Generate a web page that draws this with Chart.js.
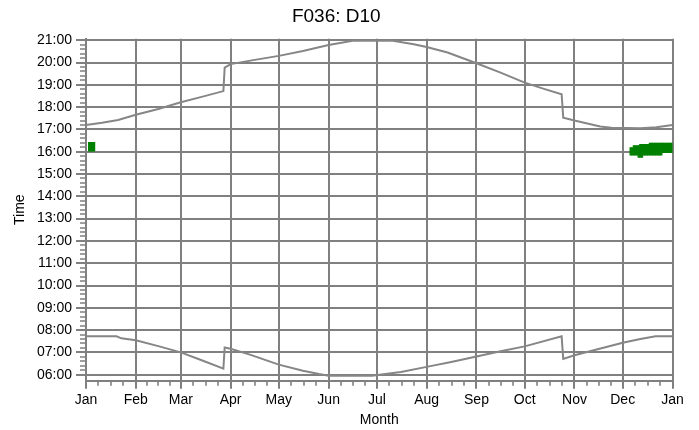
<!DOCTYPE html>
<html><head><meta charset="utf-8">
<script src="https://cdn.jsdelivr.net/npm/chart.js@4/dist/chart.umd.min.js"></script>
<style>html,body{margin:0;padding:0;background:#fff}#wrap{width:699px;height:430px;position:relative}canvas{display:block}</style>
</head><body><div id="wrap"><canvas id="c" width="699" height="430"></canvas></div>
<script>
const chartTitle = 'F036: D10';
const xTitle = 'Month';
const yTitle = 'Time';
const monthLabels = ['Jan','Feb','Mar','Apr','May','Jun','Jul','Aug','Sep','Oct','Nov','Dec','Jan'];
const monthStartDays = [0,31,59,90,120,151,181,212,243,273,304,334,365];
const hourTicks = [6,7,8,9,10,11,12,13,14,15,16,17,18,19,20,21];
const hourLabels = ['06:00','07:00','08:00','09:00','10:00','11:00','12:00','13:00','14:00','15:00','16:00','17:00','18:00','19:00','20:00','21:00'];

// upper grey line (day of year, hours)
const upperDays  = [0,10,20,31,45,59,72,85.5,86.3,90,105,120,135,151,166,191,204,212,225,243,258,273,285,296,297,304,320,327,345,355,365];
const upperTimes = [17.20,17.30,17.42,17.66,17.92,18.22,18.46,18.72,19.77,19.93,20.12,20.30,20.52,20.79,20.98,20.98,20.82,20.70,20.45,19.97,19.55,19.10,18.82,18.58,17.53,17.40,17.13,17.08,17.05,17.10,17.20];
// lower grey line
const lowerDays  = [0,19,22,31,45,59,72,85.5,86.3,90,102,120,135,145,151,178,185,196,212,228,243,258,273,296,297,304,319,334,345,354.5,365];
const lowerTimes = [7.72,7.72,7.63,7.54,7.28,7.00,6.65,6.27,7.22,7.16,6.90,6.45,6.18,6.03,5.95,5.95,6.02,6.12,6.35,6.58,6.82,7.05,7.27,7.72,6.71,6.87,7.15,7.43,7.60,7.72,7.72];
// green blocks (day of year, start hour, end hour)
const greenDays  = [2,3,4,5,
  339,340,341,342,343,344,345,346,347,348,349,350,351,352,353,354,355,356,357,358,359,360,361,362,363,364,365];
const greenStart = [16.03,16.03,16.03,16.03,
  15.85,15.85,15.85,15.85,15.85,15.75,15.75,15.75,15.85,15.85,15.85,15.85,15.85,15.85,15.85,15.85,15.85,15.85,15.85,15.85,15.96,15.96,15.96,15.96,15.96,15.96,15.96];
const greenEnd   = [16.42,16.42,16.42,16.42,
  16.18,16.18,16.27,16.27,16.27,16.27,16.33,16.33,16.33,16.33,16.33,16.33,16.38,16.38,16.38,16.38,16.38,16.38,16.38,16.38,16.38,16.38,16.38,16.38,16.38,16.38,16.38];

const FONT = "'Liberation Sans', Arial, sans-serif";
const GRID = '#808080';

const minorTicks = {
  id: 'minorTicks',
  afterDraw(chart) {
    const {ctx, scales: {x, y}, chartArea: a} = chart;
    ctx.save();
    ctx.strokeStyle = GRID;
    ctx.lineWidth = 1.6;
    ctx.beginPath();
    for (let i = 0; i < hourTicks.length - 1; i++) {
      for (let k = 1; k < 5; k++) {
        const py = Math.round(y.getPixelForValue(hourTicks[i] + k / 5));
        ctx.moveTo(a.left - 6, py); ctx.lineTo(a.left, py);
      }
    }
    for (let m = 0; m < monthStartDays.length - 1; m++) {
      const s = monthStartDays[m], e = monthStartDays[m + 1];
      for (let k = 1; k < 4; k++) {
        const px = Math.round(x.getPixelForValue(s + (e - s) * k / 4));
        ctx.moveTo(px, a.bottom); ctx.lineTo(px, a.bottom + 5);
      }
    }
    ctx.stroke();
    ctx.restore();
  }
};

new Chart(document.getElementById('c'), {
  type: 'scatter',
  data: {
    datasets: [
      {
        type: 'bar',
        data: greenDays.map((d, i) => ({x: d, y: [greenStart[i], greenEnd[i]]})),
        backgroundColor: '#008000',
        borderWidth: 0,
        barPercentage: 1,
        categoryPercentage: 1,
        inflateAmount: 0.4,
        grouped: false,
        order: 3
      },
      {
        type: 'line',
        data: upperDays.map((d, i) => ({x: d, y: upperTimes[i]})),
        borderColor: '#868686',
        borderWidth: 2,
        pointRadius: 0,
        tension: 0,
        fill: false,
        order: 1
      },
      {
        type: 'line',
        data: lowerDays.map((d, i) => ({x: d, y: lowerTimes[i]})),
        borderColor: '#868686',
        borderWidth: 2,
        pointRadius: 0,
        tension: 0,
        fill: false,
        order: 2
      }
    ]
  },
  options: {
    responsive: false,
    animation: false,
    devicePixelRatio: 1,
    layout: {padding: {left: 0, right: 26.5, top: 0, bottom: 0}},
    plugins: {
      legend: {display: false},
      tooltip: {enabled: false},
      title: {
        display: true,
        text: chartTitle,
        color: '#000',
        font: {family: FONT, size: 19, weight: 'normal'},
        padding: {top: 5.5, bottom: 10.4}
      }
    },
    scales: {
      x: {
        type: 'linear',
        min: 0, max: 365,
        offset: false,
        afterBuildTicks: s => { s.ticks = monthStartDays.map(v => ({value: v})); },
        afterFit: s => { s.height = 49.3; },
        ticks: {
          color: '#000',
          font: {family: FONT, size: 14},
          padding: 3,
          maxRotation: 0,
          autoSkip: false,
          callback: (v, i) => monthLabels[i]
        },
        grid: {color: GRID, lineWidth: 2, tickLength: 8, tickColor: GRID, tickWidth: 2, offset: false},
        border: {display: true, color: GRID, width: 2},
        title: {display: true, text: xTitle, color: '#000', font: {family: FONT, size: 14}, padding: {top: 0, bottom: 1.6}}
      },
      y: {
        type: 'linear',
        min: 5.73, max: 21.07,
        afterBuildTicks: s => { s.ticks = hourTicks.map(v => ({value: v})); },
        afterFit: s => { s.width = 86; },
        ticks: {
          color: '#000',
          font: {family: FONT, size: 14},
          padding: 4,
          autoSkip: false,
          callback: (v, i) => hourLabels[i]
        },
        grid: {color: GRID, lineWidth: 2, tickLength: 10, tickColor: GRID, tickWidth: 2},
        border: {display: true, color: GRID, width: 2},
        title: {display: true, text: yTitle, color: '#000', font: {family: FONT, size: 14}, padding: {top: 11.6, bottom: 0}}
      }
    }
  },
  plugins: [minorTicks]
});
</script>
</body></html>
